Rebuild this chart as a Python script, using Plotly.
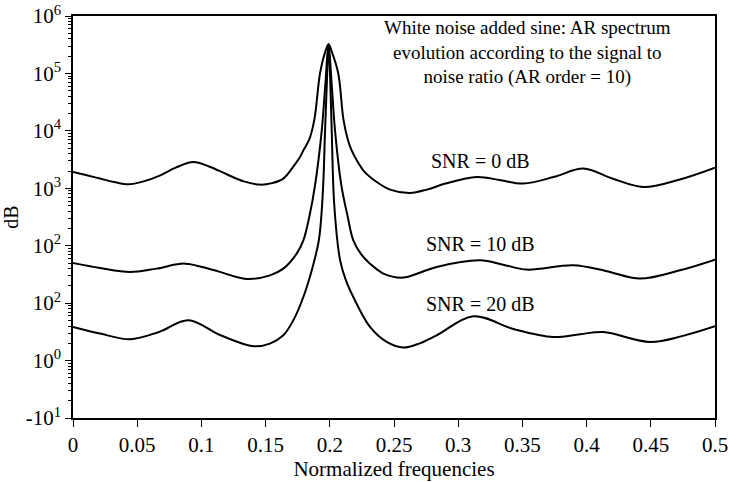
import plotly.graph_objects as go

# Normalized frequencies and log10 of the AR spectrum values
snr0_x = [0, 0.01, 0.021, 0.032, 0.043, 0.055, 0.068, 0.08, 0.0937, 0.106, 0.1197, 0.133, 0.1456,
          0.155, 0.1638, 0.172, 0.1768, 0.1794, 0.184, 0.188, 0.1924, 0.1965, 0.199, 0.2015,
          0.2066, 0.2106, 0.214, 0.217, 0.222, 0.2265, 0.2365, 0.2469, 0.2625, 0.276, 0.29,
          0.3144, 0.333, 0.3507, 0.375, 0.3975, 0.42, 0.4442, 0.472, 0.5]
snr0_log = [3.284, 3.23, 3.169, 3.11, 3.069, 3.12, 3.226, 3.36, 3.458, 3.38, 3.244, 3.12, 3.064,
            3.09, 3.169, 3.39, 3.545, 3.66, 3.85, 4.2, 5.0, 5.38, 5.507, 5.38,
            5.0, 4.2, 3.85, 3.66, 3.45, 3.3, 3.11, 2.977, 2.918, 2.98, 3.082,
            3.197, 3.14, 3.082, 3.2, 3.343, 3.17, 3.022, 3.15, 3.36]

snr10_x = [0, 0.021, 0.0444, 0.065, 0.0872, 0.11, 0.1353, 0.1534, 0.1638, 0.1742, 0.1794, 0.184,
           0.1885, 0.1937, 0.1965, 0.199, 0.2015, 0.2041, 0.209, 0.214, 0.2183, 0.2245, 0.2313,
           0.2417, 0.2573, 0.27, 0.2832, 0.317, 0.335, 0.3533, 0.3897, 0.415, 0.4416, 0.4727, 0.5]
snr10_log = [1.699, 1.612, 1.542, 1.601, 1.688, 1.572, 1.421, 1.484, 1.601, 1.863, 2.094, 2.5,
             3.05, 4.0, 4.8, 5.507, 4.8, 4.0, 3.05, 2.5, 2.094, 1.85, 1.688,
             1.515, 1.445, 1.53, 1.63, 1.746, 1.67, 1.584, 1.659, 1.56, 1.427, 1.572, 1.758]

snr20_x = [0, 0.021, 0.0444, 0.067, 0.0898, 0.115, 0.1405, 0.1534, 0.1638, 0.1716, 0.1794, 0.1859,
           0.1915, 0.1945, 0.1963, 0.1978, 0.199, 0.2003, 0.2015, 0.2035, 0.208, 0.2125, 0.2183,
           0.2313, 0.2443, 0.2573, 0.27, 0.2832, 0.3118, 0.343, 0.374, 0.395, 0.413, 0.4494,
           0.475, 0.5]
snr20_log = [0.585, 0.47, 0.371, 0.498, 0.701, 0.44, 0.249, 0.296, 0.44, 0.701, 1.107, 1.57,
             2.1, 2.9, 4.0, 4.9, 5.507, 4.9, 4.0, 2.7, 1.75, 1.4, 1.107,
             0.585, 0.324, 0.226, 0.3, 0.44, 0.771, 0.55, 0.41, 0.46, 0.498, 0.324,
             0.43, 0.597]

y_tick_exponents = [-1, 0, 1, 2, 3, 4, 5, 6]
y_tick_labels = ["-10<sup>1</sup>", "10<sup>0</sup>", "10<sup>2</sup>", "10<sup>2</sup>",
                 "10<sup>3</sup>", "10<sup>4</sup>", "10<sup>5</sup>", "10<sup>6</sup>"]
x_tick_vals = [0, 0.05, 0.1, 0.15, 0.2, 0.25, 0.3, 0.35, 0.4, 0.45, 0.5]
x_tick_labels = ["0", "0.05", "0.1", "0.15", "0.2", "0.25", "0.3", "0.35", "0.4", "0.45", "0.5"]

curve_labels = ["SNR = 0 dB", "SNR = 10 dB", "SNR = 20 dB"]
label_x = [0.317, 0.317, 0.317]
label_log = [3.47, 2.025, 0.98]

FONT = "Times New Roman, Liberation Serif, Tinos, DejaVu Serif, serif"

fig = go.Figure()
for xs, ls in [(snr0_x, snr0_log), (snr10_x, snr10_log), (snr20_x, snr20_log)]:
    fig.add_trace(go.Scatter(x=xs, y=[10 ** v for v in ls], mode="lines",
                             line=dict(color="black", width=2, shape="spline", smoothing=1.0),
                             showlegend=False, hoverinfo="skip"))

for t, xx, ll in zip(curve_labels, label_x, label_log):
    fig.add_annotation(x=xx, y=ll, xref="x", yref="y", text=t, showarrow=False,
                       font=dict(family=FONT, size=20, color="black"))

fig.add_annotation(x=0.708, y=1.003, xref="paper", yref="paper", xanchor="center", yanchor="top",
                   text="White noise added sine: AR spectrum<br>evolution according to the signal to<br>noise ratio (AR order = 10)",
                   showarrow=False, align="center",
                   font=dict(family=FONT, size=19, color="black"))

minor_vals = [m * 10 ** d for d in range(-1, 6) for m in range(2, 10)]

fig.update_layout(
    width=730, height=482,
    margin=dict(l=73, r=15, t=16, b=64),
    paper_bgcolor="white", plot_bgcolor="white",
    font=dict(family=FONT, size=20, color="black"),
    xaxis=dict(range=[0, 0.5], tickmode="array", tickvals=x_tick_vals, ticktext=x_tick_labels,
               ticks="outside", ticklen=7, tickwidth=1.3, tickcolor="black",
               showline=True, linecolor="black", linewidth=1.5, mirror=True,
               showgrid=False, zeroline=False, automargin=False, ticklabeloverflow="allow",
               tickfont=dict(family=FONT, size=21),
               title=dict(text="Normalized frequencies", font=dict(family=FONT, size=21), standoff=4)),
    yaxis=dict(type="log", range=[-1, 6], tickmode="array",
               tickvals=[10 ** e for e in y_tick_exponents], ticktext=y_tick_labels,
               ticks="outside", ticklen=6, tickwidth=1.3, tickcolor="black",
               minor=dict(tickmode="array", tickvals=minor_vals, ticks="outside", ticklen=3.5,
                          tickwidth=1, tickcolor="black", showgrid=False),
               showline=True, linecolor="black", linewidth=1.5, mirror=True,
               showgrid=False, zeroline=False, automargin=False, ticklabeloverflow="allow",
               tickfont=dict(family=FONT, size=21),
               title=dict(text="dB", font=dict(family=FONT, size=20), standoff=2)),
)

# remove the page's default 8 px body margin so the figure fills the window
fig.write_html("out.html", config={"displayModeBar": False},
               post_script="document.body.style.margin='0px';")
